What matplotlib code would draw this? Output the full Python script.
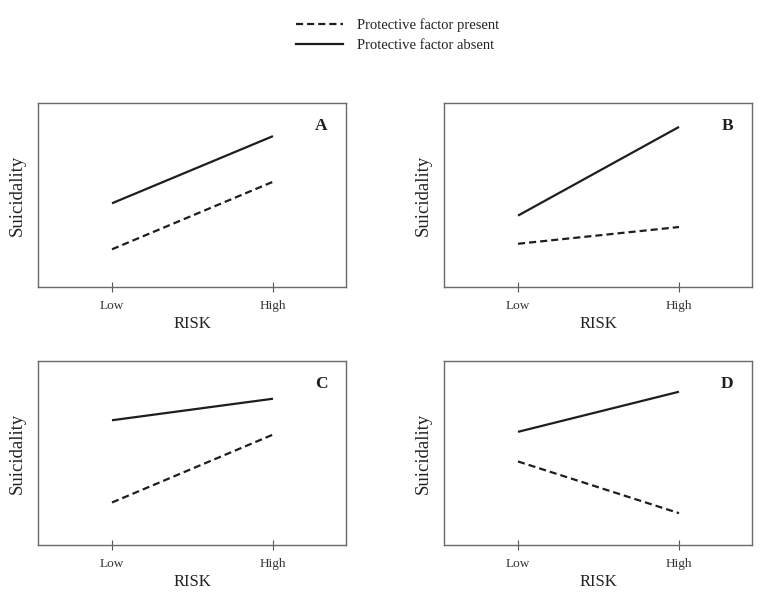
import matplotlib
matplotlib.use("Agg")
import matplotlib.pyplot as plt
from matplotlib.lines import Line2D

plt.rcParams["font.family"] = ["Liberation Serif", "DejaVu Serif"]

# ----------------- DATA -----------------
risk_levels = ["Low", "High"]
risk_x = [1, 2]
panel_names = ["A", "B", "C", "D"]

# suicidality (arbitrary 0-10 scale) at Low / High risk
absent_A = [4.55, 8.2]
present_A = [2.05, 5.72]
absent_B = [3.88, 8.7]
present_B = [2.35, 3.26]
absent_C = [6.78, 7.95]
present_C = [2.31, 6.0]
absent_D = [6.15, 8.33]
present_D = [4.54, 1.73]

absent = [absent_A, absent_B, absent_C, absent_D]
present = [present_A, present_B, present_C, present_D]

legend_labels = ["Protective factor present", "Protective factor absent"]

# ----------------- PLOT -----------------
fig = plt.figure(figsize=(7.62, 5.98), dpi=100)

rects = [
    (38 / 762, 1 - 287 / 598, 308 / 762, 184 / 598),
    (444 / 762, 1 - 287 / 598, 308 / 762, 184 / 598),
    (38 / 762, 1 - 545 / 598, 308 / 762, 184 / 598),
    (444 / 762, 1 - 545 / 598, 308 / 762, 184 / 598),
]

line_col = "#1e1e1e"
dash = (0, (3.2, 1.8))

for rect, name, ya, yp in zip(rects, panel_names, absent, present):
    ax = fig.add_axes(rect)
    ax.plot(risk_x, ya, color=line_col, lw=1.6, solid_capstyle="butt")
    ax.plot(risk_x, yp, color=line_col, lw=1.6, linestyle=dash)
    ax.set_xlim(1 - 74 / 161, 1 + 234 / 161)
    ax.set_ylim(0, 10)
    ax.set_xticks(risk_x)
    ax.set_xticklabels(risk_levels, fontsize=9.5, color="#333333")
    ax.set_yticks([])
    ax.tick_params(axis="x", direction="inout", length=7, width=0.8,
                   color="#555555", pad=6)
    for sp in ax.spines.values():
        sp.set_color("#6a6a6a")
        sp.set_linewidth(1.0)
    ax.set_xlabel("RISK", fontsize=12, color="#222222", labelpad=3)
    ax.set_ylabel("Suicidality", fontsize=13.5, color="#222222", labelpad=9)
    ax.text(0.92, 0.875, name, transform=ax.transAxes, fontsize=12.5,
            fontweight="bold", ha="center", va="center", color="#1e1e1e")

handles = [
    Line2D([], [], color=line_col, lw=1.6, linestyle=dash),
    Line2D([], [], color=line_col, lw=1.6),
]
fig.legend(handles, legend_labels, loc="center", bbox_to_anchor=(0.522, 1 - 35 / 598),
           frameon=False, fontsize=10.5, handlelength=3.2, handletextpad=1.0,
           labelspacing=0.45, labelcolor="#222222")

fig.savefig("out.png", dpi=100)
